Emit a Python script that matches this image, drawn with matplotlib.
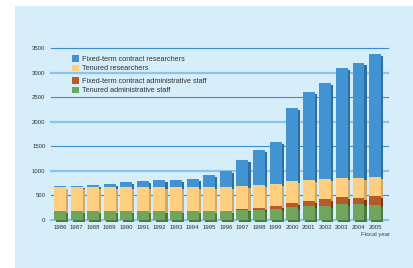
import matplotlib
matplotlib.use("Agg")
import matplotlib.pyplot as plt
import matplotlib.transforms as mtransforms
from matplotlib.patches import Rectangle, Patch
import numpy as np

years = [str(y) for y in range(1986, 2006)]
tenured_admin = [180, 180, 180, 180, 180, 180, 180, 180, 180, 180, 180,
                 200, 200, 215, 260, 280, 280, 320, 320, 300]
fixed_admin = [0, 0, 0, 0, 0, 0, 0, 0, 0, 0, 0,
               15, 35, 65, 80, 100, 140, 140, 120, 180]
tenured_res = [490, 490, 490, 490, 490, 490, 490, 490, 490, 490, 490,
               475, 475, 450, 445, 430, 410, 390, 410, 390]
fixed_res = [10, 18, 40, 65, 100, 120, 140, 140, 160, 240, 325,
             530, 710, 860, 1495, 1800, 1960, 2250, 2355, 2515]
series_names = ["Fixed-term contract researchers", "Tenured researchers",
                "Fixed-term contract administrative staff", "Tenured administrative staff"]
yticks = [0, 500, 1000, 1500, 2000, 2500, 3000, 3500]

plt.rcParams['font.family'] = ['Liberation Sans', 'DejaVu Sans']

W, H = 413, 268
fig = plt.figure(figsize=(W / 100, H / 100), dpi=100)
fig.patch.set_facecolor('white')
bg = '#D6EDFA'
fig.patches.append(Rectangle((15 / W, 0), 1 - 15 / W, (H - 6) / H,
                             transform=fig.transFigure, facecolor=bg,
                             edgecolor='none', zorder=-10))

ax = fig.add_axes([51 / W, (H - 219.7) / H, (388 - 51) / W, (219.7 - 48.3) / H])
ax.set_zorder(5)
ax.set_facecolor('none')
for s in ax.spines.values():
    s.set_visible(False)

x = np.arange(len(years))
ax.set_xlim(-0.54, len(years) - 1 + 0.78)
ax.set_ylim(0, 3500)

# gridlines
for i, t in enumerate(yticks):
    if i % 2 == 0:
        ax.axhline(t, color='#8CC4E8', lw=1.6, zorder=1, clip_on=False)
    else:
        ax.axhline(t, color='#3A8FD2', lw=0.8, zorder=1, clip_on=False)

layers = [
    (tenured_admin, '#6FA55C', '#4D7A3E'),
    (fixed_admin, '#B65A2A', '#7E3A18'),
    (tenured_res, '#FECF7E', '#D1A866'),
    (fixed_res, '#4193D1', '#2E6FA3'),
]
width = 0.72
shadow = ax.transData + mtransforms.ScaledTranslation(2.2 / 100, -2.2 / 100, fig.dpi_scale_trans)
bottom = np.zeros(len(years))
for vals, col, scol in layers:
    v = np.array(vals, dtype=float)
    ax.bar(x, v, width, bottom=bottom, color=scol, transform=shadow,
           zorder=2, clip_on=False, linewidth=0)
    bottom += v
bottom = np.zeros(len(years))
for vals, col, scol in layers:
    v = np.array(vals, dtype=float)
    ax.bar(x, v, width, bottom=bottom, color=col, zorder=3, clip_on=False, linewidth=0)
    bottom += v

ax.set_yticks(yticks)
ax.set_yticklabels([str(t) for t in yticks])
ax.set_xticks(x)
ax.set_xticklabels(years)
ax.tick_params(axis='both', length=0, labelsize=4.3, labelcolor='#333333')
ax.tick_params(axis='y', pad=4)
ax.tick_params(axis='x', pad=4)

ax.text(x[-1], -0.072, "Fiscal year", transform=ax.get_xaxis_transform(),
        ha='center', va='top', fontsize=4.3, color='#444444')

# legend
cols = [layers[3], layers[2], layers[1], layers[0]]
def leg(entries, anchor):
    handles = [Patch(facecolor=c[1], edgecolor='none') for c in entries[1]]
    lg = ax.legend(handles, entries[0], loc='upper left', bbox_to_anchor=anchor,
                   frameon=False, fontsize=5.2, handlelength=1.0, handleheight=1.0,
                   handletextpad=0.4, labelspacing=0.25, borderpad=0, labelcolor='#333333')
    return lg
lg1 = leg((series_names[:2], cols[:2]), ((68 - 51) / 337, (219.7 - 51.5) / 171.4))
ax.add_artist(lg1)
lg2 = leg((series_names[2:], cols[2:]), ((68 - 51) / 337, (219.7 - 73.5) / 171.4))

fig.savefig("out.png", dpi=100, facecolor='white')
